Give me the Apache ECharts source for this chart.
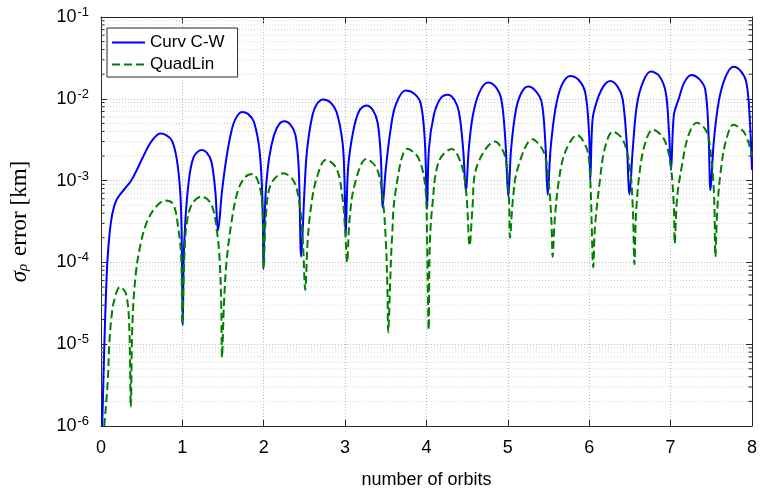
<!DOCTYPE html>
<html>
<head>
<meta charset="utf-8">
<script src="https://cdn.jsdelivr.net/npm/echarts@6/dist/echarts.min.js"></script>
<style>
html,body{margin:0;padding:0;background:#fff;}
#chart{width:760px;height:494px;}
</style>
</head>
<body>
<div id="chart"></div>
<script>
// ---------- data ----------
const seriesNames = ['Curv C-W', 'QuadLin'];
const xTickValues = [0, 1, 2, 3, 4, 5, 6, 7, 8];
const yTickExponents = [-6, -5, -4, -3, -2, -1];

const cwX = [0.015, 0.042, 0.063, 0.083, 0.124, 0.184, 0.285, 0.366, 0.44, 0.507, 0.589, 0.65, 0.73, 0.80, 0.87, 0.93, 0.973, 0.99, 1.005,
  1.015, 1.034, 1.074, 1.135, 1.235, 1.30, 1.357, 1.405, 1.438,
  1.487, 1.54, 1.60, 1.65, 1.73, 1.81, 1.88, 1.95, 1.985, 1.996,
  2.01, 2.025, 2.065, 2.126, 2.19, 2.255, 2.33, 2.39, 2.43, 2.46,
  2.50, 2.53, 2.59, 2.65, 2.73, 2.82, 2.895, 2.967, 2.99, 3.007,
  3.036, 3.097, 3.17, 3.26, 3.34, 3.40, 3.44, 3.46,
  3.50, 3.56, 3.62, 3.74, 3.85, 3.93, 3.98, 4.007,
  4.03, 4.09, 4.17, 4.26, 4.34, 4.40, 4.45, 4.485,
  4.52, 4.57, 4.65, 4.755, 4.85, 4.92, 4.97, 5.006,
  5.04, 5.10, 5.17, 5.25, 5.34, 5.415, 5.46, 5.49,
  5.525, 5.585, 5.66, 5.765, 5.87, 5.95, 5.997, 6.013,
  6.04, 6.09, 6.17, 6.26, 6.35, 6.41, 6.46, 6.495,
  6.535, 6.585, 6.66, 6.757, 6.86, 6.94, 6.98, 7.005,
  7.04, 7.10, 7.17, 7.255, 7.35, 7.425, 7.465, 7.49,
  7.53, 7.59, 7.67, 7.77, 7.86, 7.93, 7.97, 8.0];
const cwY = [1.0e-6, 1.05e-5, 4.6e-5, 1.2e-4, 3.2e-4, 5.6e-4, 7.8e-4, 9.8e-4, 1.35e-3, 1.86e-3, 2.7e-3, 3.3e-3, 3.76e-3, 3.6e-3, 3.1e-3, 1.86e-3, 7.4e-4, 2.5e-4, 1.7e-5,
  1.0e-4, 2.9e-4, 8.9e-4, 1.9e-3, 2.36e-3, 2.2e-3, 1.7e-3, 7.4e-4, 2.45e-4,
  7.4e-4, 1.86e-3, 3.9e-3, 5.6e-3, 6.9e-3, 6.5e-3, 5.2e-3, 2.26e-3, 5.1e-4, 8.3e-5,
  3.0e-4, 7.4e-4, 1.86e-3, 3.6e-3, 4.9e-3, 5.3e-3, 4.8e-3, 3.6e-3, 1.4e-3, 1.17e-4,
  7.4e-4, 2.24e-3, 5.75e-3, 8.5e-3, 9.8e-3, 9.0e-3, 6.9e-3, 3.0e-3, 1.2e-3, 2.1e-4,
  1.4e-3, 3.9e-3, 7.0e-3, 8.3e-3, 7.3e-3, 5.1e-3, 1.86e-3, 4.7e-4,
  1.4e-3, 4.3e-3, 8.3e-3, 1.26e-2, 1.15e-2, 8.7e-3, 3.0e-3, 4.5e-4,
  2.45e-3, 6.3e-3, 1.0e-2, 1.12e-2, 9.8e-3, 6.8e-3, 2.45e-3, 7.4e-4,
  2.45e-3, 6.3e-3, 1.2e-2, 1.58e-2, 1.4e-2, 9.8e-3, 3.0e-3, 6.4e-4,
  2.45e-3, 7.4e-3, 1.2e-2, 1.41e-2, 1.25e-2, 9.1e-3, 2.95e-3, 6.7e-4,
  2.45e-3, 7.6e-3, 1.45e-2, 1.9e-2, 1.7e-2, 1.2e-2, 3.9e-3, 1.02e-3,
  5.5e-3, 9.1e-3, 1.4e-2, 1.65e-2, 1.4e-2, 1.0e-2, 2.95e-3, 6.8e-4,
  2.45e-3, 8.3e-3, 1.6e-2, 2.15e-2, 1.9e-2, 1.2e-2, 3.9e-3, 1.35e-3,
  6.3e-3, 1.0e-2, 1.6e-2, 1.96e-2, 1.75e-2, 1.3e-2, 3.9e-3, 7.6e-4,
  2.95e-3, 9.1e-3, 1.8e-2, 2.46e-2, 2.2e-2, 1.6e-2, 6.3e-3, 1.35e-3];

const qlX = [0.04, 0.083, 0.103, 0.13, 0.164, 0.233, 0.305, 0.346, 0.366,
  0.386, 0.427, 0.488, 0.568, 0.67, 0.79, 0.89, 0.953, 0.985, 1.0,
  1.025, 1.053, 1.115, 1.235, 1.357, 1.43, 1.46, 1.478, 1.487,
  1.51, 1.54, 1.60, 1.68, 1.77, 1.863, 1.944, 1.985, 2.0,
  2.025, 2.085, 2.24, 2.37, 2.44, 2.48, 2.51,
  2.54, 2.58, 2.65, 2.765, 2.895, 2.967, 3.0, 3.024,
  3.056, 3.117, 3.26, 3.39, 3.46, 3.50, 3.52, 3.53,
  3.55, 3.575, 3.62, 3.765, 3.905, 3.99, 4.007, 4.027,
  4.04, 4.07, 4.15, 4.31, 4.43, 4.49, 4.53,
  4.565, 4.61, 4.84, 4.96, 5.01, 5.027,
  5.06, 5.12, 5.30, 5.44, 5.50, 5.535, 5.55,
  5.575, 5.625, 5.705, 5.85, 5.97, 6.01, 6.05,
  6.07, 6.13, 6.19, 6.29, 6.41, 6.495, 6.535, 6.555,
  6.575, 6.615, 6.68, 6.78, 6.92, 7.0, 7.04, 7.05,
  7.08, 7.14, 7.22, 7.32, 7.44, 7.50, 7.535, 7.55,
  7.575, 7.625, 7.685, 7.77, 7.91, 8.0];
const qlY = [1.0e-6, 3.5e-6, 1.05e-5, 2.2e-5, 3.5e-5, 5.0e-5, 4.2e-5, 1.8e-5, 1.7e-6,
  1.8e-5, 7.2e-5, 1.7e-4, 3.2e-4, 4.7e-4, 5.7e-4, 5.1e-4, 2.45e-4, 1.2e-4, 1.8e-5,
  1.2e-4, 2.95e-4, 5.1e-4, 6.4e-4, 5.1e-4, 2.2e-4, 9.8e-5, 2.9e-5, 6.9e-6,
  2.9e-5, 9.5e-5, 2.95e-4, 7.4e-4, 1.1e-3, 1.2e-3, 8.9e-4, 4.3e-4, 8.5e-5,
  3.5e-4, 8.9e-4, 1.23e-3, 9.8e-4, 5.1e-4, 1.86e-4, 4.6e-5,
  1.86e-4, 4.7e-4, 1.07e-3, 1.8e-3, 1.4e-3, 6.2e-4, 2.5e-4, 1.0e-4,
  3.5e-4, 8.9e-4, 1.84e-3, 1.4e-3, 6.2e-4, 1.86e-4, 4.6e-5, 1.4e-5,
  4.6e-5, 1.86e-4, 7.4e-4, 2.45e-3, 1.86e-3, 7.4e-4, 1.86e-4, 1.5e-5,
  1.55e-4, 4.7e-4, 1.7e-3, 2.44e-3, 1.55e-3, 6.8e-4, 1.6e-4,
  4.7e-4, 1.4e-3, 3.0e-3, 2.05e-3, 6.8e-4, 2.0e-4,
  5.6e-4, 1.4e-3, 3.2e-3, 2.24e-3, 9.8e-4, 3.2e-4, 1.17e-4,
  3.2e-4, 9.8e-4, 2.24e-3, 3.6e-3, 2.45e-3, 1.17e-3, 8.7e-5,
  2.7e-4, 9.8e-4, 2.45e-3, 3.95e-3, 3.2e-3, 1.55e-3, 4.7e-4, 9.5e-5,
  3.9e-4, 1.17e-3, 2.7e-3, 4.2e-3, 3.2e-3, 1.55e-3, 4.7e-4, 1.7e-4,
  6.2e-4, 1.55e-3, 3.6e-3, 5.1e-3, 4.0e-3, 1.86e-3, 6.2e-4, 1.17e-4,
  4.7e-4, 1.55e-3, 3.2e-3, 4.8e-3, 3.8e-3, 2.0e-3];

// minor log gridline positions (2..9 per decade)
const minorMultipliers = [2, 3, 4, 5, 6, 7, 8, 9];

// ---------- chart ----------
const FONT = 'Liberation Sans, Arial, Helvetica, sans-serif';
const AX = '#262626';
const GRID_LEFT = 96, GRID_TOP = 17, GRID_RIGHT = 4, GRID_BOTTOM = 63;
const yMin = Math.pow(10, yTickExponents[0]);
const yMax = Math.pow(10, yTickExponents[yTickExponents.length - 1]);

const minorVals = [];
for (let e = yTickExponents[0]; e < yTickExponents[yTickExponents.length - 1]; e++) {
  minorMultipliers.forEach(m => minorVals.push([0, m * Math.pow(10, e)]));
}

const chart = echarts.init(document.getElementById('chart'), null, {renderer: 'canvas'});

const expLabel = v => {
  const e = Math.round(Math.log10(v));
  return '{b|10}{e|' + e + '}';
};

const option = {
  animation: false,
  backgroundColor: '#fff',
  textStyle: {fontFamily: FONT},
  grid: {left: GRID_LEFT, top: GRID_TOP, right: GRID_RIGHT, bottom: GRID_BOTTOM, containLabel: false},
  legend: {
    orient: 'vertical',
    left: 107, top: 28,
    padding: [6, 13, 4, 4],
    itemWidth: 33, itemHeight: 18, itemGap: 5,
    backgroundColor: '#fff',
    borderColor: AX, borderWidth: 1, borderRadius: 0,
    itemStyle: {opacity: 0},
    textStyle: {fontFamily: FONT, fontSize: 17, color: '#000'},
    data: seriesNames
  },
  xAxis: [{
    type: 'value', min: xTickValues[0], max: xTickValues[xTickValues.length - 1], interval: 1,
    name: 'number of orbits', nameLocation: 'middle', nameGap: 45,
    nameTextStyle: {fontFamily: FONT, fontSize: 18, color: '#000'},
    axisLine: {show: true, onZero: false, lineStyle: {color: AX, width: 1}},
    axisTick: {show: true, inside: true, length: 6, lineStyle: {color: AX}},
    axisLabel: {fontFamily: FONT, fontSize: 18, color: '#000', margin: 13},
    splitLine: {show: true, lineStyle: {color: '#b8b8b8', type: [1, 2], width: 1}}
  }, {
    type: 'value', position: 'top', min: xTickValues[0], max: xTickValues[xTickValues.length - 1], interval: 1,
    axisLine: {show: true, onZero: false, lineStyle: {color: AX, width: 1}},
    axisTick: {show: true, inside: true, length: 6, lineStyle: {color: AX}},
    axisLabel: {show: false}, splitLine: {show: false}
  }],
  yAxis: [{
    type: 'log', logBase: 10, min: yMin, max: yMax,
    name: '{s|σ}{sub|ρ}{t| error [km]}',
    nameLocation: 'middle', nameRotate: 90, nameGap: 70,
    nameTextStyle: {
      color: '#000',
      rich: {
        s: {fontFamily: 'Liberation Serif, serif', fontSize: 23, fontStyle: 'italic', color: '#000'},
        sub: {fontFamily: 'Liberation Serif, serif', fontSize: 15, fontStyle: 'italic', color: '#000', padding: [8, 2, 0, 0]},
        t: {fontFamily: 'Liberation Serif, serif', fontSize: 23, color: '#000'}
      }
    },
    axisLine: {show: true, onZero: false, lineStyle: {color: AX, width: 1}},
    axisTick: {show: true, inside: true, length: 6, lineStyle: {color: AX}},
    axisLabel: {
      margin: 12,
      formatter: expLabel,
      rich: {
        b: {fontFamily: FONT, fontSize: 18, color: '#000'},
        e: {fontFamily: FONT, fontSize: 13, color: '#000', padding: [0, 0, 9, 1]}
      }
    },
    splitLine: {show: true, lineStyle: {color: '#b8b8b8', type: [1, 2], width: 1}}
  }, {
    type: 'log', logBase: 10, min: yMin, max: yMax, position: 'right',
    axisLine: {show: true, onZero: false, lineStyle: {color: AX, width: 1}},
    axisTick: {show: true, inside: true, length: 6, lineStyle: {color: AX}},
    axisLabel: {show: false}, splitLine: {show: false}
  }],
  series: [
    {
      type: 'custom', silent: true, z: 1, xAxisIndex: 0, yAxisIndex: 0,
      data: minorVals,
      renderItem: function (params, api) {
        const v = api.value(1);
        const p0 = api.coord([xTickValues[0], v]);
        const p1 = api.coord([xTickValues[xTickValues.length - 1], v]);
        return {
          type: 'group',
          children: [
            {type: 'line', shape: {x1: p0[0], y1: p0[1], x2: p1[0], y2: p1[1]},
             style: {stroke: '#d4d4d4', lineWidth: 1, lineDash: [1, 2]}},
            {type: 'line', shape: {x1: p0[0], y1: p0[1], x2: p0[0] + 3.5, y2: p0[1]},
             style: {stroke: AX, lineWidth: 1}},
            {type: 'line', shape: {x1: p1[0] - 3.5, y1: p1[1], x2: p1[0], y2: p1[1]},
             style: {stroke: AX, lineWidth: 1}}
          ]
        };
      }
    },
    {
      name: seriesNames[0], type: 'line', z: 3,
      data: cwX.map((x, i) => [x, cwY[i]]),
      showSymbol: false, symbol: 'none', smooth: 0.35,
      lineStyle: {color: '#0000ff', width: 2},
      itemStyle: {color: '#0000ff'}
    },
    {
      name: seriesNames[1], type: 'line', z: 4,
      data: qlX.map((x, i) => [x, qlY[i]]),
      showSymbol: false, symbol: 'none', smooth: 0.35,
      lineStyle: {color: '#008000', width: 2, type: [8, 4]},
      itemStyle: {color: '#008000'}
    }
  ]
};
chart.setOption(option);
</script>
</body>
</html>
